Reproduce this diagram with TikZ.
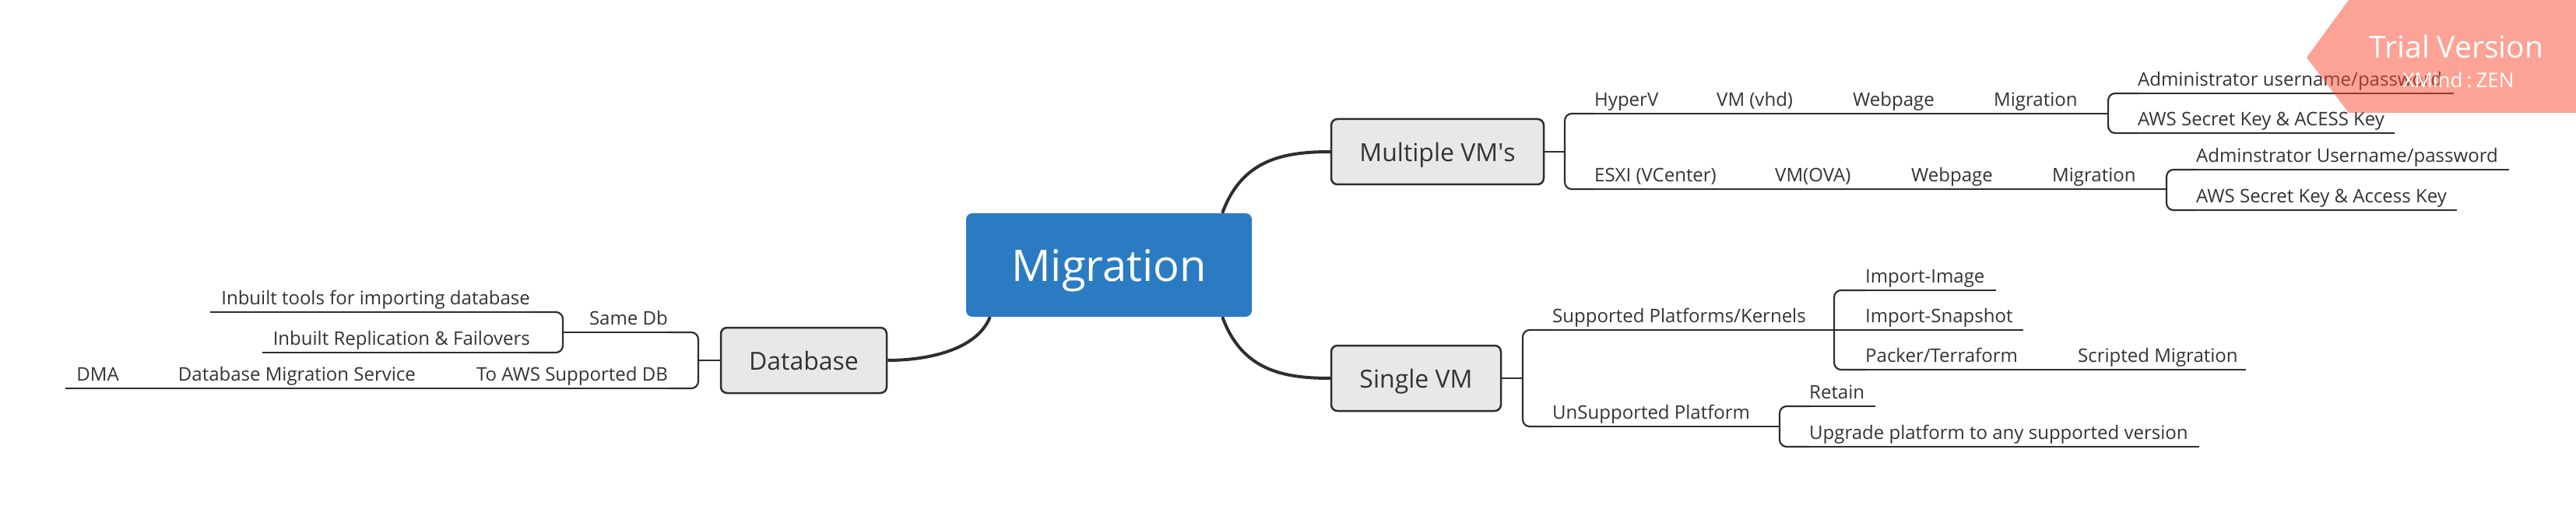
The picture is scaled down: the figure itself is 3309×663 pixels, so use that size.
\documentclass[tikz,border=0pt]{standalone}
\usepackage{fontspec}
\setmainfont{Open Sans}
\usetikzlibrary{calc}
\definecolor{rootblue}{HTML}{2B7BC3}
\definecolor{lc}{HTML}{2E2E2E}
\definecolor{tc}{HTML}{333333}
\definecolor{subfill}{HTML}{E8E8E8}
\definecolor{wm}{RGB}{249,71,45}
\begin{document}
\begin{tikzpicture}[x=1pt,y=-1pt,
  br/.style={line width=2.2pt, draw=lc, rounded corners=9pt},
  trunk/.style={line width=4pt, draw=lc},
  topic/.style={inner sep=0pt, text depth=9pt, text height=17pt, font=\fontsize{24}{28}\selectfont, text=tc},
  tr/.style={topic, anchor=south west},
  tl/.style={topic, anchor=south east},
  sub/.style={draw=lc, line width=2.5pt, fill=subfill, rounded corners=8pt, font=\fontsize{32}{38}\selectfont, text=tc, inner sep=0pt, text depth=0pt, minimum height=84pt}
]
\useasboundingbox (0,0) rectangle (3309,663);

% main nodes
\node[fill=rootblue, rounded corners=8pt, minimum width=367pt, minimum height=133pt, inner sep=0pt, text depth=0pt, font=\fontsize{56}{60}\selectfont, text=white] (root) at (1424.5,340.5) {Migration};
\node[sub, minimum width=273pt] (mvm) at (1846.5,195) {Multiple VM\textquotesingle s};
\node[sub, minimum width=218pt] (svm) at (1819,486) {Single VM};
\node[sub, minimum width=213pt] (db) at (1032.5,463) {Database};

\draw[trunk] ([xshift=-38pt]root.north east) .. controls +(25,-69) and +(-60,0) .. (mvm.west);
\draw[trunk] ([xshift=-38pt]root.south east) .. controls +(25,69) and +(-60,0) .. (svm.west);
\draw[trunk] ([xshift=31pt]root.south west) .. controls +(-17,43) and +(50,0) .. (db.east);

% Multiple VM's subtree
\coordinate (b1) at (2010,195);
\node[tr] (hyperv) at (2048,146) {HyperV};
\node[tr] (vmvhd) at (2205,146) {VM (vhd)};
\node[tr] (web1) at (2380,146) {Webpage};
\node[tr] (migr1) at (2561,146) {Migration};
\coordinate (b2) at (2708,146);
\node[tr] (adm1) at (2746,120) {Administrator username/password};
\node[tr] (aws1) at (2746,171) {AWS Secret Key \& ACESS Key};
\node[tr] (esxi) at (2048,243) {ESXI (VCenter)};
\node[tr] (vmova) at (2280,243) {VM(OVA)};
\node[tr] (web2) at (2455,243) {Webpage};
\node[tr] (migr2) at (2636,243) {Migration};
\coordinate (b3) at (2783,243);
\node[tr] (adm2) at (2821,218) {Adminstrator Username/password};
\node[tr] (aws2) at (2821,270) {AWS Secret Key \& Access Key};

\draw[br] (mvm.east) -- (b1);
\draw[br] (hyperv.south west) -| (b1) |- (esxi.south west);
\draw[br] (hyperv.south west) -- (b2);
\draw[br] (adm1.south west) -| (b2) |- (aws1.south west);
\draw[br] (adm1.south west) -- ([xshift=15pt]adm1.south east);
\draw[br] (aws1.south west) -- ([xshift=13pt]aws1.south east);
\draw[br] (esxi.south west) -- (b3);
\draw[br] (adm2.south west) -| (b3) |- (aws2.south west);
\draw[br] (adm2.south west) -- ([xshift=14pt]adm2.south east);
\draw[br] (aws2.south west) -- ([xshift=13pt]aws2.south east);

% Single VM subtree
\coordinate (b4) at (1956,486);
\node[tr] (supp) at (1994,424) {Supported Platforms/Kernels};
\node[tr] (unsupp) at (1994,548) {UnSupported Platform};
\coordinate (b5) at (2356,424);
\node[tr] (impimg) at (2396,373) {Import-Image};
\node[tr] (impsnap) at (2396,424) {Import-Snapshot};
\node[tr] (packer) at (2396,475) {Packer/Terraform};
\node[tr] (scripted) at (2669,475) {Scripted Migration};
\coordinate (b6) at (2286,548);
\node[tr] (retain) at (2324,522) {Retain};
\node[tr] (upgrade) at (2324,574) {Upgrade platform to any supported version};

\draw[br] (svm.east) -- (b4);
\draw[br] (supp.south west) -| (b4) |- (unsupp.south west);
\draw[br] (supp.south west) -- (b5);
\draw[br] (impimg.south west) -| (b5) |- (packer.south west);
\draw[br] (b5) -- (impsnap.south west) -- ([xshift=13pt]impsnap.south east);
\draw[br] (impimg.south west) -- ([xshift=14pt]impimg.south east);
\draw[br] (packer.south west) -- ([xshift=10pt]scripted.south east);
\draw[br] (unsupp.south west) -- (b6);
\draw[br] (retain.south west) -| (b6) |- (upgrade.south west);
\draw[br] (retain.south west) -- ([xshift=14pt]retain.south east);
\draw[br] (upgrade.south west) -- ([xshift=14pt]upgrade.south east);

% Database subtree
\coordinate (b7) at (897,463);
\node[tl] (samedb) at (858,427) {Same Db};
\node[tl] (toaws) at (858,499) {To AWS Supported DB};
\node[tl] (dms) at (534,499) {Database Migration Service};
\node[tl] (dma) at (153,499) {DMA};
\coordinate (b8) at (723,427);
\node[tl] (inbuilt1) at (681,401) {Inbuilt tools for importing database};
\node[tl] (inbuilt2) at (681,453) {Inbuilt Replication \& Failovers};

\draw[br] (db.west) -- (b7);
\draw[br] (samedb.south east) -| (b7) |- (toaws.south east);
\draw[br] (samedb.south east) -- (b8);
\draw[br] (inbuilt1.south east) -| (b8) |- (inbuilt2.south east);
\draw[br] (inbuilt1.south east) -- ([xshift=-14pt]inbuilt1.south west);
\draw[br] (inbuilt2.south east) -- ([xshift=-14pt]inbuilt2.south west);
\draw[br] (toaws.south east) -- ([xshift=-14pt]dma.south west);

% watermark
\fill[wm, opacity=0.5] (3017,0) -- (3309,0) -- (3309,145) -- (3017,145) -- (2963,74) -- cycle;
\node[text=white, inner sep=0pt, font=\fontsize{39}{42}\selectfont] (trial) at (3155.5,60) {Trial Version};
\node[text=white, inner sep=0pt, font=\fontsize{26}{28}\selectfont] (xmind) at (3158,103) {XMind\hspace{5pt}:\hspace{5pt}ZEN};
\end{tikzpicture}
\end{document}
